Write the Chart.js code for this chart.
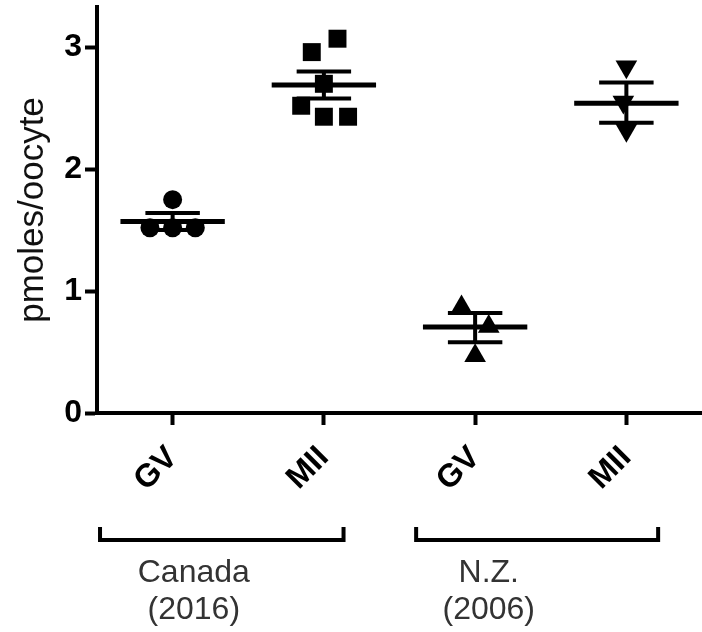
<!DOCTYPE html>
<html>
<head>
<meta charset="utf-8">
<script src="https://cdn.jsdelivr.net/npm/chart.js@4"></script>
<style>
  body { margin: 0; background: #fff; }
  #wrap { width: 702px; height: 632px; }
</style>
</head>
<body>
<div id="wrap"><canvas id="myChart" width="702" height="632"></canvas></div>
<script>
// categories along x
const categories = ['GV', 'MII', 'GV', 'MII'];
const groupNames = [['Canada', '(2016)'], ['N.Z.', '(2006)']];
const yTicks = [0, 1, 2, 3];

// individual points (pmoles/oocyte) and their horizontal jitter
const gvCanada = [1.75, 1.52, 1.52, 1.52];
const gvCanadaJitter = [0, -0.15, 0, 0.15];
const miiCanada = [3.07, 2.96, 2.70, 2.52, 2.43, 2.43];
const miiCanadaJitter = [0.09, -0.08, 0, -0.15, 0, 0.16];
const gvNZ = [0.87, 0.71, 0.47];
const gvNZJitter = [-0.09, 0.09, 0];
const miiNZ = [2.84, 2.55, 2.32];
const miiNZJitter = [0, -0.02, 0];

// mean and SEM per category
const means = [1.57, 2.69, 0.705, 2.54];
const semHigh = [1.64, 2.80, 0.82, 2.71];
const semLow = [1.50, 2.58, 0.58, 2.38];

function toPoints(values, jitter, pos) {
    return values.map((v, i) => ({ x: pos + jitter[i], y: v }));
}

// mean bars and SEM whiskers as broken line segments
let meanLine = [];
let semLine = [];
means.forEach((m, i) => {
    let x = i + 1;
    meanLine.push({ x: x - 0.345, y: m }, { x: x + 0.345, y: m }, { x: x, y: null });
    semLine.push({ x: x - 0.18, y: semHigh[i] }, { x: x + 0.18, y: semHigh[i] }, { x: x, y: null });
    semLine.push({ x: x, y: semHigh[i] }, { x: x, y: semLow[i] }, { x: x, y: null });
    semLine.push({ x: x - 0.18, y: semLow[i] }, { x: x + 0.18, y: semLow[i] }, { x: x, y: null });
});

// brackets + group names under the x axis
const groupBrackets = {
    id: 'groupBrackets',
    afterDraw(chart) {
        const ctx = chart.ctx;
        const xs = chart.scales.x;
        const spans = [[0.52, 2.13], [2.61, 4.21]];
        const labelPos = [1.14, 3.09];
        ctx.save();
        ctx.strokeStyle = '#000';
        ctx.lineWidth = 4;
        spans.forEach(s => {
            let x1 = xs.getPixelForValue(s[0]);
            let x2 = xs.getPixelForValue(s[1]);
            ctx.beginPath();
            ctx.moveTo(x1, 527);
            ctx.lineTo(x1, 540);
            ctx.lineTo(x2, 540);
            ctx.lineTo(x2, 527);
            ctx.stroke();
        });
        ctx.fillStyle = '#333';
        ctx.font = '32px "Liberation Sans", Arial, sans-serif';
        ctx.textAlign = 'center';
        ctx.textBaseline = 'alphabetic';
        groupNames.forEach((g, i) => {
            let x = xs.getPixelForValue(labelPos[i]);
            ctx.fillText(g[0], x, 582);
            ctx.fillText(g[1], x, 619);
        });
        ctx.restore();
    }
};

const black = '#000';
const ctx = document.getElementById('myChart').getContext('2d');
new Chart(ctx, {
    type: 'scatter',
    data: {
        datasets: [
            { data: toPoints(gvCanada, gvCanadaJitter, 1), pointStyle: 'circle', pointRadius: 9.5 },
            { data: toPoints(miiCanada, miiCanadaJitter, 2), pointStyle: 'rect', pointRadius: 12.7 },
            { data: toPoints(gvNZ, gvNZJitter, 3), pointStyle: 'triangle', pointRadius: 12.5 },
            { data: toPoints(miiNZ, miiNZJitter, 4), pointStyle: 'triangle', pointRotation: 180, pointRadius: 12.5 },
            { type: 'line', data: meanLine, borderWidth: 5, pointRadius: 0, spanGaps: false },
            { type: 'line', data: semLine, borderWidth: 4, pointRadius: 0, spanGaps: false }
        ].map(d => Object.assign({ backgroundColor: black, borderColor: black, pointBorderWidth: 0, pointHoverRadius: 0 }, d))
    },
    options: {
        responsive: false,
        animation: false,
        layout: { autoPadding: false, padding: { top: 7, right: 0, bottom: 0, left: 0 } },
        plugins: { legend: { display: false }, tooltip: { enabled: false } },
        scales: {
            x: {
                type: 'linear',
                min: 0.5,
                max: 4.5,
                afterBuildTicks: s => { s.ticks = categories.map((c, i) => ({ value: i + 1 })); },
                afterFit: s => { s.height = 219; s.paddingLeft = 0; s.paddingRight = 0; },
                grid: { drawOnChartArea: false, drawTicks: true, tickLength: 12, tickWidth: 4, tickColor: black },
                border: { display: true, width: 4, color: black },
                ticks: {
                    autoSkip: false,
                    minRotation: 45,
                    maxRotation: 45,
                    padding: 14,
                    color: black,
                    font: { family: '"Liberation Sans", Arial, sans-serif', size: 32, weight: 'bold' },
                    callback: (v) => categories[Math.round(v) - 1]
                }
            },
            y: {
                min: 0,
                max: 3.33,
                afterBuildTicks: s => { s.ticks = yTicks.map(v => ({ value: v })); },
                afterFit: s => { s.width = 97; s.paddingTop = 0; s.paddingBottom = 0; },
                grid: { drawOnChartArea: false, drawTicks: true, tickLength: 12, tickWidth: 4, tickColor: black },
                border: { display: true, width: 4, color: black },
                title: {
                    display: true,
                    text: 'pmoles/oocyte',
                    color: '#111',
                    padding: { top: 12, bottom: 0 },
                    font: { family: '"Liberation Sans", Arial, sans-serif', size: 35 }
                },
                ticks: {
                    padding: 3,
                    color: black,
                    font: { family: '"Liberation Sans", Arial, sans-serif', size: 32, weight: 'bold' }
                }
            }
        }
    },
    plugins: [groupBrackets]
});
</script>
</body>
</html>
